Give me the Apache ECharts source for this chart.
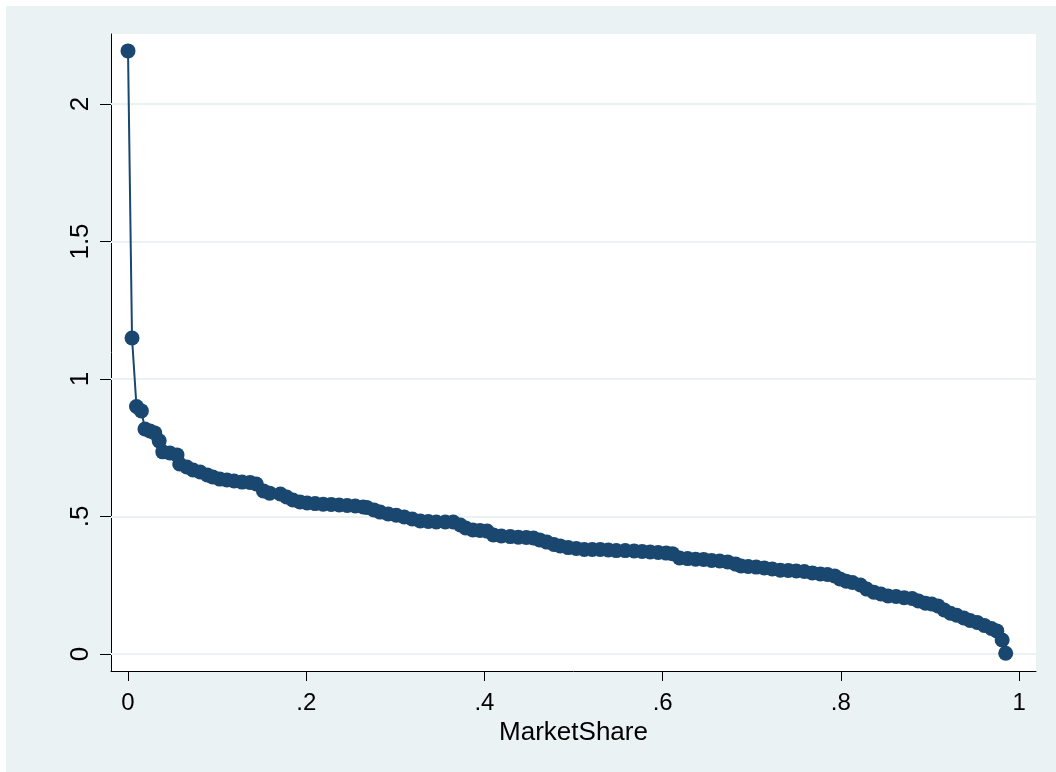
<!DOCTYPE html>
<html>
<head>
<meta charset="utf-8">
<title>MarketShare</title>
<style>
  html, body { margin: 0; padding: 0; background: #fff; }
  #chart { position: absolute; left: 6px; top: 6px; width: 1050px; height: 766px; }
</style>
</head>
<body>
<div id="chart"></div>
<script src="https://cdn.jsdelivr.net/npm/echarts@6/dist/echarts.min.js"></script>
<script>
// x: MarketShare, y: plotted value
var marketShare = [
  0, 0.0045, 0.0095, 0.015, 0.019, 0.0247, 0.030, 0.035, 0.039, 0.047,
  0.055, 0.058, 0.066, 0.073, 0.081, 0.089, 0.095, 0.103, 0.111, 0.119,
  0.128, 0.137, 0.144, 0.152, 0.159, 0.171, 0.178, 0.185, 0.193, 0.201,
  0.210, 0.219, 0.228, 0.237, 0.246, 0.255, 0.264, 0.268, 0.276, 0.283,
  0.292, 0.301, 0.310, 0.319, 0.328, 0.337, 0.346, 0.356, 0.365, 0.373,
  0.379, 0.387, 0.395, 0.403, 0.410, 0.419, 0.429, 0.438, 0.447, 0.455,
  0.462, 0.470, 0.478, 0.485, 0.494, 0.503, 0.512, 0.521, 0.530, 0.539,
  0.548, 0.558, 0.568, 0.577, 0.586, 0.595, 0.604, 0.611, 0.619, 0.628,
  0.637, 0.646, 0.655, 0.664, 0.673, 0.682, 0.688, 0.696, 0.705, 0.714,
  0.723, 0.732, 0.741, 0.750, 0.759, 0.768, 0.777, 0.785, 0.793, 0.799,
  0.806, 0.813, 0.822, 0.829, 0.837, 0.845, 0.853, 0.862, 0.871, 0.880,
  0.887, 0.895, 0.902, 0.909, 0.916, 0.923, 0.930, 0.938, 0.945, 0.953,
  0.961, 0.969, 0.975, 0.981, 0.985
];
var values = [
  2.193, 1.149, 0.900, 0.884, 0.818, 0.811, 0.804, 0.775, 0.735, 0.731,
  0.724, 0.691, 0.680, 0.669, 0.662, 0.651, 0.644, 0.636, 0.633, 0.629,
  0.625, 0.624, 0.618, 0.593, 0.585, 0.582, 0.571, 0.560, 0.553, 0.549,
  0.547, 0.545, 0.544, 0.542, 0.540, 0.538, 0.535, 0.533, 0.524, 0.516,
  0.509, 0.505, 0.498, 0.491, 0.484, 0.482, 0.480, 0.480, 0.480, 0.469,
  0.458, 0.451, 0.449, 0.447, 0.433, 0.429, 0.427, 0.425, 0.424, 0.422,
  0.415, 0.407, 0.398, 0.393, 0.387, 0.384, 0.380, 0.380, 0.380, 0.378,
  0.376, 0.376, 0.375, 0.373, 0.371, 0.369, 0.367, 0.365, 0.349, 0.347,
  0.345, 0.344, 0.340, 0.338, 0.335, 0.327, 0.320, 0.318, 0.316, 0.313,
  0.309, 0.305, 0.304, 0.302, 0.300, 0.295, 0.291, 0.289, 0.284, 0.273,
  0.265, 0.260, 0.251, 0.236, 0.225, 0.218, 0.211, 0.209, 0.205, 0.202,
  0.193, 0.185, 0.182, 0.175, 0.160, 0.148, 0.141, 0.131, 0.122, 0.115,
  0.104, 0.093, 0.084, 0.051, 0.003
];
var xTicks = [0, 0.2, 0.4, 0.6, 0.8, 1];
var yTicks = [0, 0.5, 1, 1.5, 2];

function stataLabel(v) {
  // 0.5 -> ".5", 1.5 -> "1.5"
  var s = String(Math.round(v * 1000) / 1000);
  return s.replace(/^0\./, '.');
}

var points = [];
for (var i = 0; i < marketShare.length; i++) {
  points.push([marketShare[i], values[i]]);
}

var gridLines = [];
for (var j = 0; j < yTicks.length; j++) {
  gridLines.push({ yAxis: yTicks[j] });
}

var myChart = echarts.init(document.getElementById('chart'));
myChart.setOption({
  backgroundColor: '#EAF2F3',
  animation: false,
  textStyle: { fontFamily: 'Liberation Sans, Arial, sans-serif' },
  grid: {
    left: 105, top: 28, right: 20, bottom: 101,
    show: true, backgroundColor: '#fff', borderWidth: 0
  },
  xAxis: {
    type: 'value',
    min: -0.0191, max: 1.019,
    name: 'MarketShare',
    nameLocation: 'middle',
    nameGap: 44,
    nameTextStyle: { color: '#000', fontSize: 26 },
    axisLine: { show: true, onZero: false, lineStyle: { color: '#000', width: 1 } },
    axisTick: { show: true, length: 10, customValues: xTicks, lineStyle: { color: '#000' } },
    axisLabel: { customValues: xTicks, color: '#000', fontSize: 24, margin: 20, formatter: stataLabel },
    splitLine: { show: false }
  },
  yAxis: {
    type: 'value',
    min: -0.0618, max: 2.2545,
    axisLine: { show: true, onZero: false, lineStyle: { color: '#000', width: 1 } },
    axisTick: { show: true, length: 11, customValues: yTicks, lineStyle: { color: '#000' } },
    axisLabel: { customValues: yTicks, color: '#000', fontSize: 26, rotate: 90, margin: 17, formatter: stataLabel },
    splitLine: { show: false }
  },
  series: [
    {
      // horizontal grid lines, drawn under the data
      type: 'line',
      data: [],
      z: 1,
      silent: true,
      markLine: {
        z: 1,
        silent: true,
        symbol: 'none',
        label: { show: false },
        lineStyle: { color: '#EAF2F3', width: 2, type: 'solid' },
        data: gridLines
      }
    },
    {
      type: 'line',
      z: 10,
      data: points,
      symbol: 'circle',
      symbolSize: 15,
      showAllSymbol: true,
      itemStyle: { color: '#1A476F' },
      lineStyle: { color: '#1A476F', width: 2 }
    }
  ]
});
</script>
</body>
</html>
